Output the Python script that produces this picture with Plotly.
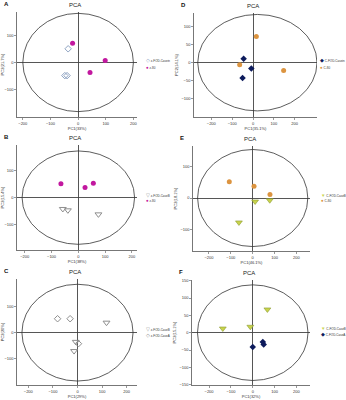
import plotly.graph_objects as go

W, H = 346, 400

# ---------------- data ----------------
# Panel A
A_groups = ["z-FOD-Casein", "z-80"]
A_g1_x = [-36, -48, -40]
A_g1_y = [51, -49, -49]
A_g2_x = [-20, 98, 43]
A_g2_y = [72, 7, -37]
# Panel B
B_groups = ["z-FOD-CaseB", "z-80"]
B_g1_x = [-58, -39, 75]
B_g1_y = [-42, -47, -62]
B_g2_x = [-65, 25, 56]
B_g2_y = [51, 38, 53]
# Panel C
C_groups = ["z-FOD-CaseB", "z-FOD-CaseA"]
C_g1_x = [118, -7, -14]
C_g1_y = [38, -35, -70]
C_g2_x = [-81, -30, 4]
C_g2_y = [53, 53, -42]
# Panel D
D_groups = ["C-FOD-Casein", "C-80"]
D_g1_x = [-45, -8, -50]
D_g1_y = [11, -16, -43]
D_g2_x = [16, -64, 147]
D_g2_y = [73, -6, -22]
# Panel E
E_groups = ["C-FOD-CaseB", "C-80"]
E_g1_x = [11, 78, -63]
E_g1_y = [-11, -7, -77]
E_g2_x = [-107, 6, 79]
E_g2_y = [51, 37, 11]
# Panel F
F_groups = ["C-FOD-CaseB", "C-FOD-CaseA"]
F_g1_x = [-137, -11, 67]
F_g1_y = [12, 17, 67]
F_g2_x = [0, 46, 50]
F_g2_y = [-41, -27, -34]

x_tickvals = [-200, -100, 0, 100, 200]
x_titles = {"A": "PC1(33%)", "B": "PC1(38%)", "C": "PC1(29%)",
            "D": "PC1(35.1%)", "E": "PC1(46.1%)", "F": "PC1(32%)"}
y_titles = {"A": "PC2(21.7%)", "B": "PC2(15.4%)", "C": "PC2(20%)",
            "D": "PC2(14.1%)", "E": "PC2(18.1%)", "F": "PC2(15.1%)"}
# confidence ellipse (center x, radius x, radius y)
ellipses = {"A": (0, 200, 183), "B": (0, 210, 173), "C": (0, 226, 184),
            "D": (21, 286, 135), "E": (0, 252, 153), "F": (0, 253, 138)}

# ---------------- styles ----------------
MAG = "#c2189f"
ORG = "#dc9440"
NAVY = "#0d1b5c"
GRAY = "#8e8e8e"
BLUEG = "#8ea3c2"
YG = "#c9d34c"

panels = {
    # key: (px left, px right, px top, px bottom, xrange, yrange, ytickvals, legend x, legend y)
    "A": (17, 137, 12, 117, [-221, 213], [-203, 188], [-100, 0, 100], 144, 61),
    "B": (17, 137, 145, 250, [-229, 219], [-194, 195], [-100, 0, 100], 144, 195),
    "C": (17, 137, 279, 385, [-246, 242], [-199, 204], [-100, 0, 100], 144, 329),
    "D": (194, 317, 13, 117, [-283, 307], [-152, 139], [-100, -50, 0, 50, 100], 318, 61),
    "E": (193, 310, 146, 251, [-273, 262], [-167, 164], [-100, 0, 100], 319, 195),
    "F": (192, 310, 280, 385, [-278, 262], [-151, 152], [-150, -100, -50, 0, 50, 100, 150], 319, 328),
}

series = {
    "A": [(A_groups[0], A_g1_x, A_g1_y, dict(symbol="diamond-open", color=BLUEG, size=5, line=dict(width=1)), "◇", BLUEG),
          (A_groups[1], A_g2_x, A_g2_y, dict(symbol="circle", color=MAG, size=5), "●", MAG)],
    "B": [(B_groups[0], B_g1_x, B_g1_y, dict(symbol="triangle-down-open", color=GRAY, size=6, line=dict(width=1)), "▽", GRAY),
          (B_groups[1], B_g2_x, B_g2_y, dict(symbol="circle", color=MAG, size=5), "●", MAG)],
    "C": [(C_groups[0], C_g1_x, C_g1_y, dict(symbol="triangle-down-open", color=GRAY, size=6, line=dict(width=1)), "▽", GRAY),
          (C_groups[1], C_g2_x, C_g2_y, dict(symbol="diamond-open", color=GRAY, size=5, line=dict(width=1)), "◇", GRAY)],
    "D": [(D_groups[0], D_g1_x, D_g1_y, dict(symbol="diamond", color=NAVY, size=5), "◆", NAVY),
          (D_groups[1], D_g2_x, D_g2_y, dict(symbol="circle", color=ORG, size=5), "●", ORG)],
    "E": [(E_groups[0], E_g1_x, E_g1_y, dict(symbol="triangle-down", color=YG, size=6, line=dict(width=0.6, color="#8a9a30")), "▼", YG),
          (E_groups[1], E_g2_x, E_g2_y, dict(symbol="circle", color=ORG, size=5), "●", ORG)],
    "F": [(F_groups[0], F_g1_x, F_g1_y, dict(symbol="triangle-down", color=YG, size=6, line=dict(width=0.6, color="#8a9a30")), "▼", YG),
          (F_groups[1], F_g2_x, F_g2_y, dict(symbol="diamond", color=NAVY, size=5), "◆", NAVY)],
}

FONT = "Liberation Sans, Arial, sans-serif"
LINE = "#555555"

fig = go.Figure()
layout = dict(width=W, height=H, margin=dict(l=0, r=0, t=0, b=0, autoexpand=False),
              paper_bgcolor="white", plot_bgcolor="white", showlegend=False,
              hovermode=False,
              font=dict(family=FONT, size=4, color="#333"))
annotations = []
shapes = []

for i, key in enumerate(["A", "B", "C", "D", "E", "F"]):
    n = i + 1
    xa = "xaxis" if n == 1 else f"xaxis{n}"
    ya = "yaxis" if n == 1 else f"yaxis{n}"
    xr = "x" if n == 1 else f"x{n}"
    yr = "y" if n == 1 else f"y{n}"
    l, r, t, b, xrng, yrng, yt, lx, ly = panels[key]
    common = dict(showline=True, linecolor=LINE, linewidth=0.8, ticks="outside",
                  ticklen=2, tickwidth=0.6, tickcolor=LINE, showgrid=False,
                  zeroline=True, zerolinecolor="#444", zerolinewidth=0.9,
                  tickfont=dict(size=4, color="#333"), fixedrange=True,
                  automargin=False)
    layout[xa] = dict(common, domain=[l / W, r / W], range=xrng, anchor=yr,
                      tickvals=x_tickvals,
                      title=dict(text=x_titles[key], font=dict(size=4, color="#333"), standoff=1))
    layout[ya] = dict(common, domain=[1 - b / H, 1 - t / H], range=yrng, anchor=xr,
                      tickvals=yt,
                      title=dict(text=y_titles[key], font=dict(size=4, color="#333"), standoff=2))
    cx, rx, ry = ellipses[key]
    shapes.append(dict(type="circle", xref=xr, yref=yr, x0=cx - rx, x1=cx + rx,
                       y0=-ry, y1=ry, line=dict(color="#333", width=0.8)))
    for name, xs, ys, mk, sym, col in series[key]:
        fig.add_trace(go.Scatter(x=xs, y=ys, mode="markers", name=name, marker=mk,
                                 xaxis=xr, yaxis=yr))
    # title "PCA"
    annotations.append(dict(text="PCA", xref="paper", yref="paper",
                            x=((l + r) / 2 - 2) / W, y=1 - (t - 7) / H,
                            xanchor="center", yanchor="middle", showarrow=False,
                            font=dict(size=6, color="#222")))
    # panel letter
    annotations.append(dict(text=f"<b>{key}</b>", xref="paper", yref="paper",
                            x=(l - 15) / W, y=1 - (t - 8) / H, xanchor="left",
                            yanchor="middle", showarrow=False,
                            font=dict(size=6, color="#111")))
    # legend (text entries)
    for j, (name, xs, ys, mk, sym, col) in enumerate(series[key]):
        annotations.append(dict(
            text=f"<span style='color:{col};font-size:4.5px'>{sym}</span> {name}",
            xref="paper", yref="paper", x=lx / W, y=1 - (ly + 6 * j) / H,
            xanchor="left", yanchor="middle", showarrow=False,
            font=dict(size=3, color="#333")))

layout["annotations"] = annotations
layout["shapes"] = shapes
fig.update_layout(**layout)
fig.write_html("out.html", config={"displayModeBar": False, "staticPlot": True},
               post_script="document.body.style.margin='0px';document.body.style.overflow='hidden';")
